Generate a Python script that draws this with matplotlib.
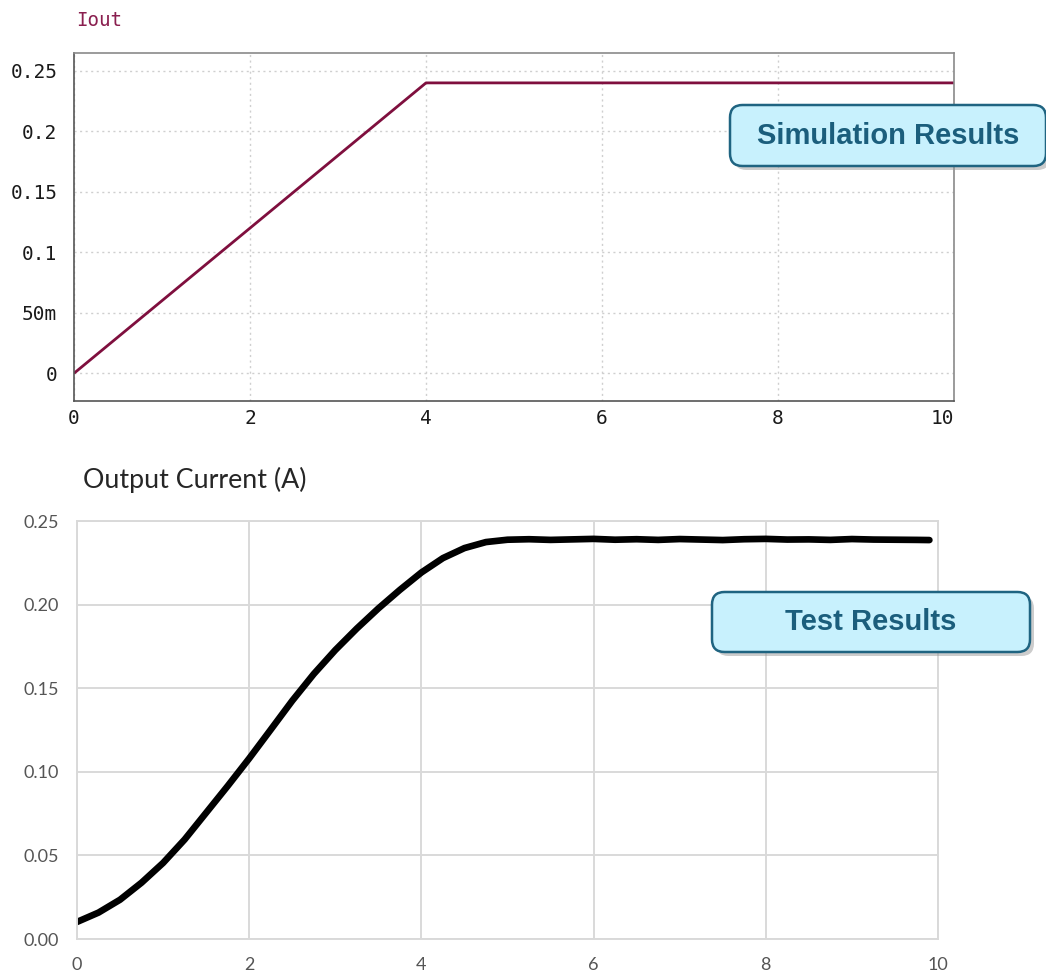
import matplotlib
matplotlib.use("Agg")
import matplotlib.pyplot as plt
from matplotlib.patches import FancyBboxPatch
from matplotlib.ticker import FixedLocator, FixedFormatter

# ---------------- data ----------------
sim_t = [0, 4, 10]
sim_i = [0, 0.24, 0.24]
sim_yticks = [0, 0.05, 0.10, 0.15, 0.20, 0.25]
sim_ylabels = ["0", "50m", "0.1", "0.15", "0.2", "0.25"]
sim_xticks = [0, 2, 4, 6, 8, 10]

test_t = [0, 0.25, 0.5, 0.75, 1.0, 1.25, 1.5, 1.75, 2.0, 2.25, 2.5, 2.75,
          3.0, 3.25, 3.5, 3.75, 4.0, 4.25, 4.5, 4.75, 5.0, 5.25, 5.5, 5.75,
          6.0, 6.25, 6.5, 6.75, 7.0, 7.25, 7.5, 7.75, 8.0, 8.25, 8.5, 8.75,
          9.0, 9.25, 9.5, 9.75, 9.9]
test_i = [0.0102, 0.0158, 0.0235, 0.0337, 0.0455, 0.0595, 0.0755, 0.0915,
          0.1080, 0.1252, 0.1425, 0.1585, 0.1728, 0.1857, 0.1977, 0.2088,
          0.2192, 0.2278, 0.2338, 0.2374, 0.2388, 0.2391, 0.2387, 0.2390,
          0.2393, 0.2388, 0.2391, 0.2387, 0.2392, 0.2389, 0.2386, 0.2391,
          0.2393, 0.2389, 0.2390, 0.2387, 0.2392, 0.2389, 0.2388, 0.2387,
          0.2386]
test_yticks = [0.00, 0.05, 0.10, 0.15, 0.20, 0.25]
test_ylabels = ["0.00", "0.05", "0.10", "0.15", "0.20", "0.25"]
test_xticks = [0, 2, 4, 6, 8, 10]

W, H = 1046, 974
fig = plt.figure(figsize=(W / 100, H / 100), dpi=100)

def fx(px):
    return px / W

def fy(py):
    return 1 - py / H

# ---------------- top: simulation ----------------
ax1 = fig.add_axes([fx(74), fy(401), fx(954) - fx(74), fy(53) - fy(401)])
ax1.plot(sim_t, sim_i, color="#7f0f3e", lw=2.0, solid_capstyle="butt")
ax1.set_xlim(0, 10)
ax1.set_ylim(-0.0229, 0.2647)
ax1.yaxis.set_major_locator(FixedLocator(sim_yticks))
ax1.yaxis.set_major_formatter(FixedFormatter(sim_ylabels))
ax1.set_xticks(sim_xticks)
ax1.set_xticklabels([str(v) for v in sim_xticks])
for lab in ax1.get_xticklabels():
    lab.set_fontfamily("DejaVu Sans Mono")
for lab in ax1.get_yticklabels():
    lab.set_fontfamily("DejaVu Sans Mono")
ax1.tick_params(axis="both", length=0, labelsize=14, colors="#1a1a1a")
ax1.tick_params(axis="y", pad=12)
ax1.tick_params(axis="x", pad=6)
ax1.get_xticklabels()[-1].set_horizontalalignment("right")
ax1.grid(True, which="major", linestyle=(0, (1.5, 2.5)), color="#cfcfcf", lw=1.0)
for s in ax1.spines.values():
    s.set_color("#8a8a8a")
    s.set_linewidth(1.2)
ax1.spines["left"].set_color("#555555")
ax1.spines["bottom"].set_color("#555555")
fig.text(fx(76), fy(20), "Iout", family="DejaVu Sans Mono", fontsize=13.8,
         color="#8a1f4f", va="center", ha="left")

# ---------------- bottom: test ----------------
ax2 = fig.add_axes([fx(77), fy(939), fx(938) - fx(77), fy(521) - fy(939)])
ax2.plot(test_t, test_i, color="black", lw=4.8, solid_capstyle="round",
         solid_joinstyle="round")
ax2.set_xlim(0, 10)
ax2.set_ylim(0, 0.25)
ax2.yaxis.set_major_locator(FixedLocator(test_yticks))
ax2.yaxis.set_major_formatter(FixedFormatter(test_ylabels))
ax2.set_xticks(test_xticks)
ax2.set_xticklabels([str(v) for v in test_xticks])
for lab in ax2.get_xticklabels() + ax2.get_yticklabels():
    lab.set_fontfamily("Lato")
ax2.tick_params(axis="both", length=0, labelsize=13, colors="#555555")
ax2.tick_params(axis="y", pad=13)
ax2.tick_params(axis="x", pad=13)
ax2.grid(True, color="#d9d9d9", lw=1.4)
ax2.set_axisbelow(True)
for s in ax2.spines.values():
    s.set_color("#d9d9d9")
    s.set_linewidth(1.4)
fig.text(fx(83), fy(480), "Output Current (A)", family="Lato", fontsize=19.3,
         color="#262626", va="center", ha="left")

# ---------------- callout boxes ----------------
def callout(x0, y0, x1, y1, text):
    w = fx(x1) - fx(x0)
    h = fy(y0) - fy(y1)
    sh = FancyBboxPatch((fx(x0) + fx(4), fy(y1) - 4 / H), w, h,
                        boxstyle="round,pad=0,rounding_size=0.012",
                        transform=fig.transFigure, facecolor="#9a9a9a",
                        edgecolor="none", alpha=0.5, zorder=9,
                        mutation_aspect=W / H)
    fig.patches.append(sh)
    box = FancyBboxPatch((fx(x0), fy(y1)), w, h,
                         boxstyle="round,pad=0,rounding_size=0.012",
                         transform=fig.transFigure, facecolor="#c8f1fd",
                         edgecolor="#1f6481", lw=1.8, zorder=10,
                         mutation_aspect=W / H)
    fig.patches.append(box)
    fig.text((fx(x0) + fx(x1)) / 2, (fy(y0) + fy(y1)) / 2, text,
             family="Liberation Sans", weight="bold", fontsize=21,
             color="#1b5e7c", ha="center", va="center", zorder=11)

callout(730, 105, 1046, 166, "Simulation Results")
callout(712, 592, 1030, 652, "Test Results")

fig.savefig("out.png", dpi=100)
